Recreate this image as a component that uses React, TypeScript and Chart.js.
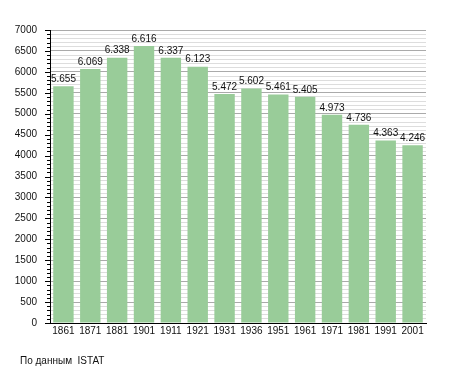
import React, { useEffect, useRef } from "react";
import { Chart, registerables } from "chart.js";

Chart.register(...registerables);

const categories = ["1861", "1871", "1881", "1901", "1911", "1921", "1931", "1936", "1951", "1961", "1971", "1981", "1991", "2001"];
const population = [5655, 6069, 6338, 6616, 6337, 6123, 5472, 5602, 5461, 5405, 4973, 4736, 4363, 4246];
const valueLabels = ["5.655", "6.069", "6.338", "6.616", "6.337", "6.123", "5.472", "5.602", "5.461", "5.405", "4.973", "4.736", "4.363", "4.246"];
const sourceNote = "По данным  ISTAT";

const FONT = "'Liberation Sans', Arial, sans-serif";

export default function App() {
  const ref = useRef<HTMLCanvasElement | null>(null);

  useEffect(() => {
    if (!ref.current) return;
    const extras = {
      id: "extras",
      afterDatasetsDraw(chart: any) {
        const ctx = chart.ctx;
        const meta = chart.getDatasetMeta(0);
        ctx.save();
        ctx.fillStyle = "#111";
        ctx.font = `10px ${FONT}`;
        ctx.textAlign = "center";
        ctx.textBaseline = "bottom";
        meta.data.forEach((bar: any, i: number) => {
          ctx.fillText(valueLabels[i], bar.x, bar.y - 2);
        });
        ctx.restore();
      },
      afterDraw(chart: any) {
        const ctx = chart.ctx;
        const y = chart.scales.y;
        const left = chart.chartArea.left;
        ctx.save();
        ctx.strokeStyle = "#000";
        ctx.lineWidth = 1;
        for (let v = 0; v <= 7000; v += 100) {
          const py = Math.round(y.getPixelForValue(v)) + 0.5;
          const len = v % 500 === 0 ? 5 : 3;
          ctx.beginPath();
          ctx.moveTo(left - len, py);
          ctx.lineTo(left, py);
          ctx.stroke();
        }
        ctx.fillStyle = "#111";
        ctx.font = `10px ${FONT}`;
        ctx.textAlign = "left";
        ctx.textBaseline = "middle";
        ctx.fillText(sourceNote, 20, 361);
        ctx.restore();
      },
    };

    const chart = new Chart(ref.current, {
      type: "bar",
      data: {
        labels: categories,
        datasets: [
          {
            data: population,
            backgroundColor: "#99cc99",
            borderWidth: 0,
            barPercentage: 0.76,
            categoryPercentage: 1,
          },
        ],
      },
      options: {
        responsive: false,
        animation: false,
        layout: { padding: { top: 30, right: 29, left: 0, bottom: 0 } },
        plugins: { legend: { display: false }, tooltip: { enabled: false } },
        scales: {
          x: {
            grid: { display: false, drawTicks: false },
            border: { display: true, color: "#000", width: 1 },
            ticks: { color: "#111", font: { family: FONT, size: 10 }, padding: 2, maxRotation: 0, autoSkip: false },
            afterFit: (s: any) => { s.height = 50; },
          },
          y: {
            min: 0,
            max: 7000,
            grid: {
              drawTicks: false,
              color: (c: any) => (c.tick && c.tick.value % 500 === 0 ? "#aaaaaa" : "#dddddd"),
            },
            border: { display: true, color: "#000", width: 1 },
            ticks: {
              stepSize: 100,
              autoSkip: false,
              color: "#111",
              font: { family: FONT, size: 10 },
              padding: 13,
              callback: (v: any) => (Number(v) % 500 === 0 ? String(v) : ""),
            },
            afterFit: (s: any) => { s.width = 50; },
          },
        },
      },
      plugins: [extras],
    });
    return () => chart.destroy();
  }, []);

  return (
    <div style={{ position: "fixed", left: 0, top: 0, width: 455, height: 373, background: "#fff" }}>
      <canvas ref={ref} width={455} height={373} />
    </div>
  );
}
